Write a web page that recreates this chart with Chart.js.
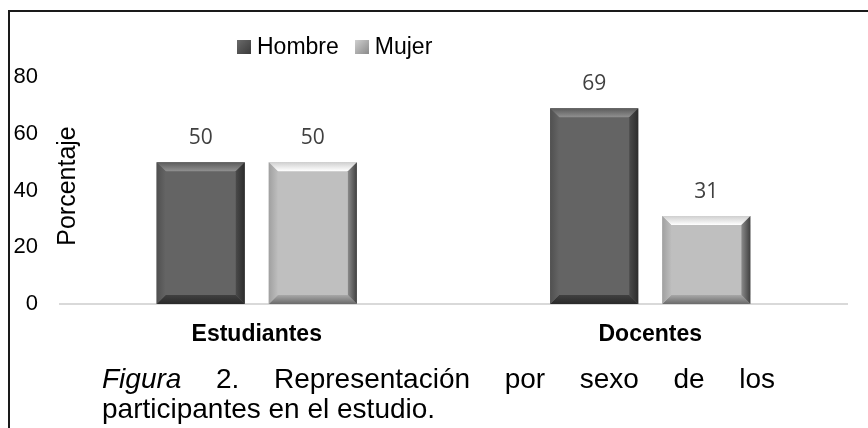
<!DOCTYPE html>
<html>
<head>
<meta charset="utf-8">
<script src="https://cdn.jsdelivr.net/npm/chart.js@4.4.1/dist/chart.umd.min.js"></script>
<style>
  html, body { margin: 0; padding: 0; background: #fff; }
  body { width: 868px; height: 428px; position: relative; overflow: hidden; font-family: "Liberation Sans", Arial, sans-serif; }
  #frame { position: absolute; left: 8px; top: 10px; width: 900px; height: 500px; border-top: 2px solid #1a1a1a; border-left: 2px solid #1a1a1a; }
  #wrap { position: absolute; left: 0; top: 0; width: 868px; height: 428px; }
  #legend { position: absolute; top: 33px; left: 237px; display: flex; align-items: center; font-size: 23px; color: #000; white-space: nowrap; }
  #legend .item { display: flex; align-items: center; margin-right: 16px; }
  #legend .sw { width: 14px; height: 14px; margin-right: 6px; }
  #caption { position: absolute; left: 102px; top: 364px; width: 673px; font-size: 28px; line-height: 30px; color: #000; text-align: justify; text-align-last: left; }
  #caption .l1 { text-align: justify; text-align-last: justify; display: block; }
</style>
</head>
<body>
<div id="frame"></div>
<div id="wrap"><canvas id="c" width="868" height="428"></canvas></div>
<div id="legend"></div>
<div id="caption"><span class="l1"><i>Figura</i> 2. Representación por sexo de los</span>participantes en el estudio.</div>
<script>
// ---- data ----
const categories = ["Estudiantes", "Docentes"];
const seriesNames = ["Hombre", "Mujer"];
const hombre = [50, 69];
const mujer = [50, 31];
const yTitle = "Porcentaje";

// ---- styles ----
const faceColors = ["#646464", "#bfbfbf"];
// [outer, inner] colours of each bevel side
const bevelColors = [
  { top: ["#5a5a5a", "#909090"], left: ["#505050", "#646464"], right: ["#2c2c2c", "#4a4a4a"], bottom: ["#2a2a2a", "#404040"] },
  { top: ["#cfcfcf", "#ffffff"], left: ["#a0a0a0", "#bdbdbd"], right: ["#404040", "#8a8a8a"], bottom: ["#6a6a6a", "#a8a8a8"] }
];

// HTML legend built from series names
const legendEl = document.getElementById('legend');
seriesNames.forEach((n, i) => {
  const it = document.createElement('div'); it.className = 'item';
  const sw = document.createElement('div'); sw.className = 'sw';
  sw.style.background = i === 0 ? 'linear-gradient(135deg,#6a6a6a,#3a3a3a)' : 'linear-gradient(135deg,#cfcfcf,#8a8a8a)';
  const tx = document.createElement('span'); tx.textContent = n;
  it.appendChild(sw); it.appendChild(tx); legendEl.appendChild(it);
});

const bevelPlugin = {
  id: 'bevel',
  afterDatasetsDraw(chart) {
    const ctx = chart.ctx;
    chart.data.datasets.forEach((ds, di) => {
      const meta = chart.getDatasetMeta(di);
      const c = bevelColors[di];
      meta.data.forEach((bar, idx) => {
        const l = bar.x - bar.width / 2, r = bar.x + bar.width / 2;
        const t = bar.y, bo = bar.base;
        const b = 9;
        ctx.save();
        const poly = (pts, cols, x0, y0, x1, y1) => {
          const g = ctx.createLinearGradient(x0, y0, x1, y1);
          g.addColorStop(0, cols[0]); g.addColorStop(1, cols[1]);
          ctx.beginPath(); ctx.moveTo(pts[0][0], pts[0][1]);
          for (let k = 1; k < pts.length; k++) ctx.lineTo(pts[k][0], pts[k][1]);
          ctx.closePath(); ctx.fillStyle = g; ctx.fill();
        };
        poly([[l, t], [r, t], [r - b, t + b], [l + b, t + b]], c.top, 0, t, 0, t + b);
        poly([[l, bo], [r, bo], [r - b, bo - b], [l + b, bo - b]], c.bottom, 0, bo, 0, bo - b);
        poly([[l, t], [l + b, t + b], [l + b, bo - b], [l, bo]], c.left, l, 0, l + b, 0);
        poly([[r, t], [r - b, t + b], [r - b, bo - b], [r, bo]], c.right, r, 0, r - b, 0);
        // data label
        ctx.fillStyle = "#404040";
        ctx.font = '21px "Open Sans", "Liberation Sans", sans-serif';
        ctx.textAlign = 'center';
        ctx.textBaseline = 'middle';
        ctx.fillText(String(ds.data[idx]), bar.x, t - 24);
        ctx.restore();
      });
    });
    // y title, placed to the right of the tick labels
    ctx.save();
    ctx.translate(68, 186);
    ctx.rotate(-Math.PI / 2);
    ctx.fillStyle = "#000";
    ctx.font = '25px "Liberation Sans", Arial, sans-serif';
    ctx.textAlign = 'center';
    ctx.textBaseline = 'middle';
    ctx.fillText(yTitle, 0, 0);
    ctx.restore();
  }
};

new Chart(document.getElementById('c'), {
  type: 'bar',
  data: {
    labels: categories,
    datasets: [
      { label: seriesNames[0], data: hombre, backgroundColor: faceColors[0], borderWidth: 0 },
      { label: seriesNames[1], data: mujer, backgroundColor: faceColors[1], borderWidth: 0 }
    ]
  },
  options: {
    responsive: false,
    animation: false,
    events: [],
    layout: { padding: { left: 0, right: 21, top: 77, bottom: 74 } },
    datasets: { bar: { categoryPercentage: 0.57, barPercentage: 0.786 } },
    plugins: { legend: { display: false }, tooltip: { enabled: false } },
    scales: {
      x: {
        grid: { display: false, drawTicks: false },
        border: { display: true, color: '#d9d9d9', width: 2 },
        ticks: { color: '#000', padding: 17, font: { family: '"Liberation Sans", Arial, sans-serif', size: 23, weight: 'bold' } },
        afterFit(s) { s.height = 50; }
      },
      y: {
        min: 0, max: 80,
        grid: { display: false, drawTicks: false },
        border: { display: false },
        ticks: { stepSize: 20, color: '#000', padding: 22, font: { family: '"Liberation Sans", Arial, sans-serif', size: 22 } },
        afterFit(s) { s.width = 60; }
      }
    }
  },
  plugins: [bevelPlugin]
});
</script>
</body>
</html>
